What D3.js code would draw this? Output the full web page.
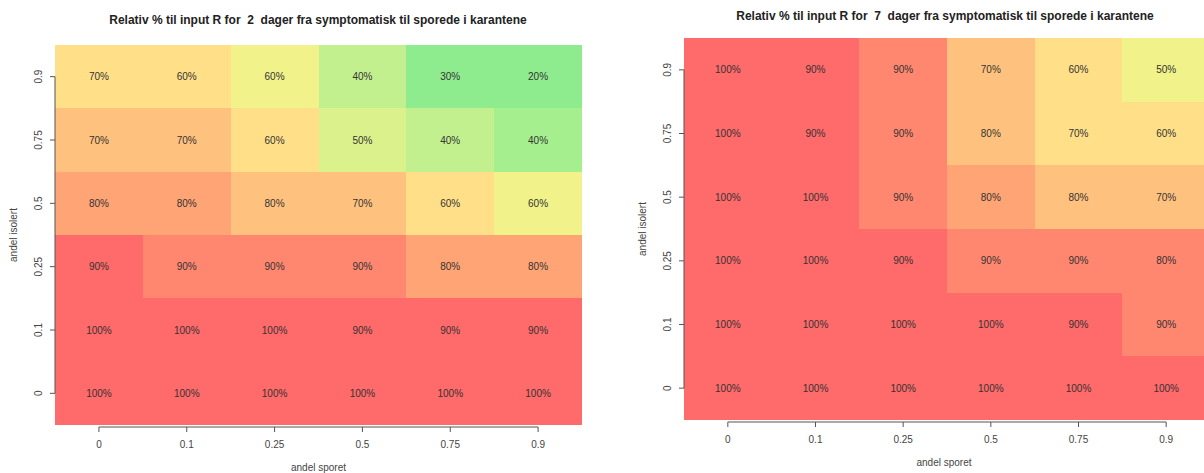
<!DOCTYPE html>
<html>
<head>
<meta charset="utf-8">
<script src="https://cdn.jsdelivr.net/npm/d3@7"></script>
<style>
  body { margin: 0; background: #fff; }
  svg { display: block; font-family: "Liberation Sans", Arial, sans-serif; }
</style>
</head>
<body>
<svg id="chart" width="1204" height="473"></svg>
<script>
// Kategorier (akser)
const sporet = ["0", "0.1", "0.25", "0.5", "0.75", "0.9"];
const isolert = ["0", "0.1", "0.25", "0.5", "0.75", "0.9"];

// Relativ R, en rad per andel isolert (0 ... 0.9), kolonner = andel sporet
const rel2dager = [
  [1.00, 0.99, 0.99, 0.98, 0.97, 0.96],
  [0.98, 0.97, 0.96, 0.94, 0.93, 0.92],
  [0.93, 0.88, 0.87, 0.86, 0.80, 0.79],
  [0.80, 0.79, 0.76, 0.72, 0.63, 0.57],
  [0.71, 0.70, 0.63, 0.49, 0.40, 0.36],
  [0.66, 0.62, 0.57, 0.41, 0.28, 0.22],
];
const rel7dager = [
  [1.00, 1.00, 0.99, 0.99, 0.98, 0.97],
  [0.99, 0.98, 0.97, 0.96, 0.92, 0.89],
  [0.99, 0.97, 0.91, 0.87, 0.86, 0.84],
  [0.98, 0.96, 0.88, 0.81, 0.76, 0.70],
  [0.97, 0.94, 0.89, 0.76, 0.66, 0.61],
  [0.97, 0.93, 0.88, 0.71, 0.63, 0.54],
];

const titler = [
  "Relativ % til input R for  2  dager fra symptomatisk til sporede i karantene",
  "Relativ % til input R for  7  dager fra symptomatisk til sporede i karantene",
];

// Fargeskala: grønn (lav) -> rød (høy)
const farger = ["#8fec8e", "#a6ef8e", "#c3f08e", "#dbf28c", "#f1f28a",
                "#ffe088", "#ffc27e", "#ffa474", "#ff876f", "#ff6a6a"];
const color = d3.scaleThreshold()
  .domain([0.3, 0.37, 0.45, 0.52, 0.6, 0.68, 0.77, 0.83, 0.9])
  .range(farger);

const svg = d3.select("#chart");

function panel(values, title, box) {
  const g = svg.append("g");

  const x = d3.scaleBand().domain(sporet).range([box.x0, box.x1]);
  const y = d3.scaleBand().domain(isolert).range([box.y1, box.y0]);

  const cells = [];
  values.forEach((row, i) => row.forEach((v, j) => {
    cells.push({ s: sporet[j], iso: isolert[i], v: v });
  }));

  // Ruter
  g.append("g")
    .attr("shape-rendering", "crispEdges")
    .selectAll("rect")
    .data(cells)
    .enter()
    .append("rect")
    .attr("x", d => Math.round(x(d.s)))
    .attr("y", d => Math.round(y(d.iso)))
    .attr("width", d => Math.round(x(d.s) + x.bandwidth()) - Math.round(x(d.s)))
    .attr("height", d => Math.round(y(d.iso) + y.bandwidth()) - Math.round(y(d.iso)))
    .attr("fill", d => color(d.v));

  // Prosenttekst
  g.selectAll("text.lab")
    .data(cells)
    .enter()
    .append("text")
    .attr("class", "lab")
    .attr("x", d => x(d.s) + x.bandwidth() / 2)
    .attr("y", d => y(d.iso) + y.bandwidth() / 2)
    .attr("dy", "0.35em")
    .attr("text-anchor", "middle")
    .attr("font-size", 10)
    .attr("fill", "#333")
    .text(d => Math.round(d.v * 10) * 10 + "%");

  // X-akse
  const ax = g.append("g")
    .attr("transform", `translate(0, ${box.y1 + 2})`)
    .call(d3.axisBottom(x).tickSizeOuter(0).tickSize(5).tickPadding(9));
  ax.select(".domain").remove();
  ax.append("line")
    .attr("x1", x(sporet[0]) + x.bandwidth() / 2)
    .attr("x2", x(sporet[5]) + x.bandwidth() / 2)
    .attr("stroke", "#555");

  // Y-akse
  const ay = g.append("g")
    .attr("transform", `translate(${box.x0}, 0)`)
    .call(d3.axisLeft(y).tickSizeOuter(0).tickSize(5));
  ay.select(".domain").remove();
  ay.append("line")
    .attr("y1", y(isolert[0]) + y.bandwidth() / 2)
    .attr("y2", y(isolert[5]) + y.bandwidth() / 2)
    .attr("stroke", "#555");
  ay.selectAll(".tick text")
    .attr("transform", "rotate(-90)")
    .attr("x", 0)
    .attr("y", -17)
    .attr("dy", "0.35em")
    .attr("text-anchor", "middle");

  [ax, ay].forEach(a => {
    a.selectAll(".tick line").attr("stroke", "#555");
    a.selectAll(".tick text").attr("fill", "#444").attr("font-size", 10)
      .attr("font-family", "Liberation Sans, Arial, sans-serif");
  });

  // Titler
  g.append("text")
    .attr("x", box.tx)
    .attr("y", box.ty)
    .attr("text-anchor", "middle")
    .attr("font-size", 12)
    .attr("font-weight", "bold")
    .attr("fill", "#222")
    .style("white-space", "pre")
    .text(title);

  g.append("text")
    .attr("x", (box.x0 + box.x1) / 2 + box.xlabShift)
    .attr("y", box.y1 + 46)
    .attr("text-anchor", "middle")
    .attr("font-size", 10)
    .attr("fill", "#444")
    .text("andel sporet");

  g.append("text")
    .attr("transform", `rotate(-90)`)
    .attr("x", -(box.y0 + box.y1) / 2)
    .attr("y", box.x0 - 38)
    .attr("text-anchor", "middle")
    .attr("font-size", 10)
    .attr("fill", "#444")
    .text("andel isolert");
}

panel(rel2dager, titler[0], { x0: 55, x1: 582, y0: 45, y1: 425, tx: 318, ty: 24, xlabShift: 0 });
panel(rel7dager, titler[1], { x0: 684, x1: 1210, y0: 38, y1: 420, tx: 945, ty: 20, xlabShift: -3 });
</script>
</body>
</html>
